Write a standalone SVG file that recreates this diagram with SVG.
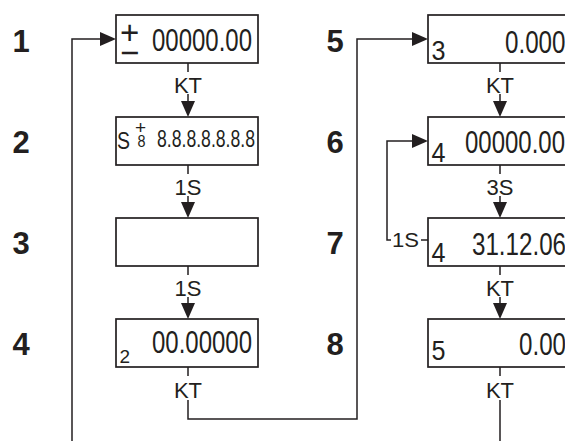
<svg xmlns="http://www.w3.org/2000/svg" width="565" height="441" viewBox="0 0 565 441">
<style>
.box{fill:#fff;stroke:#231f20;stroke-width:1.7}
.ln{fill:none;stroke:#231f20;stroke-width:1.5}
.ah{fill:#231f20}
.num{font-family:"Liberation Sans",Arial,sans-serif;font-weight:bold;font-size:31px;fill:#231f20;text-anchor:middle}
.lbl{font-family:"Liberation Sans",Arial,sans-serif;font-size:22px;fill:#231f20;text-anchor:middle}
.lbs{font-family:"Liberation Sans",Arial,sans-serif;font-size:20px;fill:#231f20}
.dig{font-family:"Liberation Sans",Arial,sans-serif;font-size:32px;fill:#231f20}
.idx{font-family:"Liberation Sans",Arial,sans-serif;font-size:28px;fill:#231f20}
</style>
<rect width="565" height="441" fill="#fff"/>
<g id="steps">
<text class="num" x="21" y="52">1</text>
<text class="num" x="21" y="153">2</text>
<text class="num" x="21" y="254">3</text>
<text class="num" x="21" y="355">4</text>
<text class="num" x="335" y="52">5</text>
<text class="num" x="335" y="153">6</text>
<text class="num" x="335" y="254">7</text>
<text class="num" x="335" y="355">8</text>
</g>
<g id="connectors">
<path class="ln" d="M188,63V72M188,94V101"/>
<polygon class="ah" points="181,101 195,101 188,117"/>
<text class="lbl" x="188" y="93">KT</text>
<path class="ln" d="M188,165V174M188,196V202"/>
<polygon class="ah" points="181,202 195,202 188,218"/>
<text class="lbl" x="188" y="195">1S</text>
<path class="ln" d="M188,266V275M188,297V303"/>
<polygon class="ah" points="181,303 195,303 188,319"/>
<text class="lbl" x="188" y="296">1S</text>
<path class="ln" d="M188,367V376M188,400V419H357V39H412"/>
<polygon class="ah" points="412,32 412,46 428,39"/>
<text class="lbl" x="188" y="398">KT</text>
<path class="ln" d="M72,441V39H100"/>
<polygon class="ah" points="100,32 100,46 116,39"/>
<path class="ln" d="M500,63V72M500,94V101"/>
<polygon class="ah" points="493,101 507,101 500,117"/>
<text class="lbl" x="500" y="93">KT</text>
<path class="ln" d="M500,165V174M500,196V202"/>
<polygon class="ah" points="493,202 507,202 500,218"/>
<text class="lbl" x="500" y="195">3S</text>
<path class="ln" d="M500,266V275M500,297V303"/>
<polygon class="ah" points="493,303 507,303 500,319"/>
<text class="lbl" x="500" y="296">KT</text>
<path class="ln" d="M500,367V376M500,400V441"/>
<text class="lbl" x="500" y="398">KT</text>
<path class="ln" d="M428,240H421M391,240H387V141H412"/>
<polygon class="ah" points="412,134 412,148 428,141"/>
<text class="lbs" x="392" y="247" textLength="27" lengthAdjust="spacingAndGlyphs">1S</text>
</g>
<g id="n1">
<rect class="box" x="116" y="15" width="142" height="48"/>
<text class="dig" x="120" y="44" style="font-size:33px">+</text>
<text class="dig" x="120" y="64" style="font-size:33px">−</text>
<text class="dig" x="152" y="51" textLength="100" lengthAdjust="spacingAndGlyphs">00000.00</text>
</g>
<g id="n2">
<rect class="box" x="116" y="117" width="142" height="48"/>
<text class="dig" x="117" y="148.5" style="font-size:23px" textLength="13" lengthAdjust="spacingAndGlyphs">S</text>
<text class="dig" x="135" y="134" style="font-size:19px">+</text>
<text class="dig" x="137.5" y="147" style="font-size:17px" textLength="8" lengthAdjust="spacingAndGlyphs">8</text>
<text class="dig" x="157" y="147" style="font-size:24px" textLength="98" lengthAdjust="spacingAndGlyphs">8.8.8.8.8.8.8</text>
</g>
<g id="n3">
<rect class="box" x="116" y="218" width="142" height="48"/>
</g>
<g id="n4">
<rect class="box" x="116" y="319" width="142" height="48"/>
<text class="dig" x="119.5" y="363" style="font-size:19px">2</text>
<text class="dig" x="152" y="353" textLength="100" lengthAdjust="spacingAndGlyphs">00.00000</text>
</g>
<g id="n5">
<rect class="box" x="428" y="15" width="145" height="48"/>
<text class="idx" x="431.5" y="60" textLength="14" lengthAdjust="spacingAndGlyphs">3</text>
<text class="dig" x="505" y="53" textLength="60.5" lengthAdjust="spacingAndGlyphs">0.000</text>
</g>
<g id="n6">
<rect class="box" x="428" y="117" width="145" height="48"/>
<text class="idx" x="431.5" y="162" textLength="14" lengthAdjust="spacingAndGlyphs">4</text>
<text class="dig" x="465" y="153" textLength="100" lengthAdjust="spacingAndGlyphs">00000.00</text>
</g>
<g id="n7">
<rect class="box" x="428" y="218" width="145" height="48"/>
<text class="idx" x="431.5" y="262" textLength="14" lengthAdjust="spacingAndGlyphs">4</text>
<text class="dig" x="472" y="255" textLength="94" lengthAdjust="spacingAndGlyphs">31.12.06</text>
</g>
<g id="n8">
<rect class="box" x="428" y="319" width="145" height="48"/>
<text class="idx" x="431.5" y="360" textLength="14" lengthAdjust="spacingAndGlyphs">5</text>
<text class="dig" x="519" y="355" textLength="47" lengthAdjust="spacingAndGlyphs">0.00</text>
</g>
</svg>
